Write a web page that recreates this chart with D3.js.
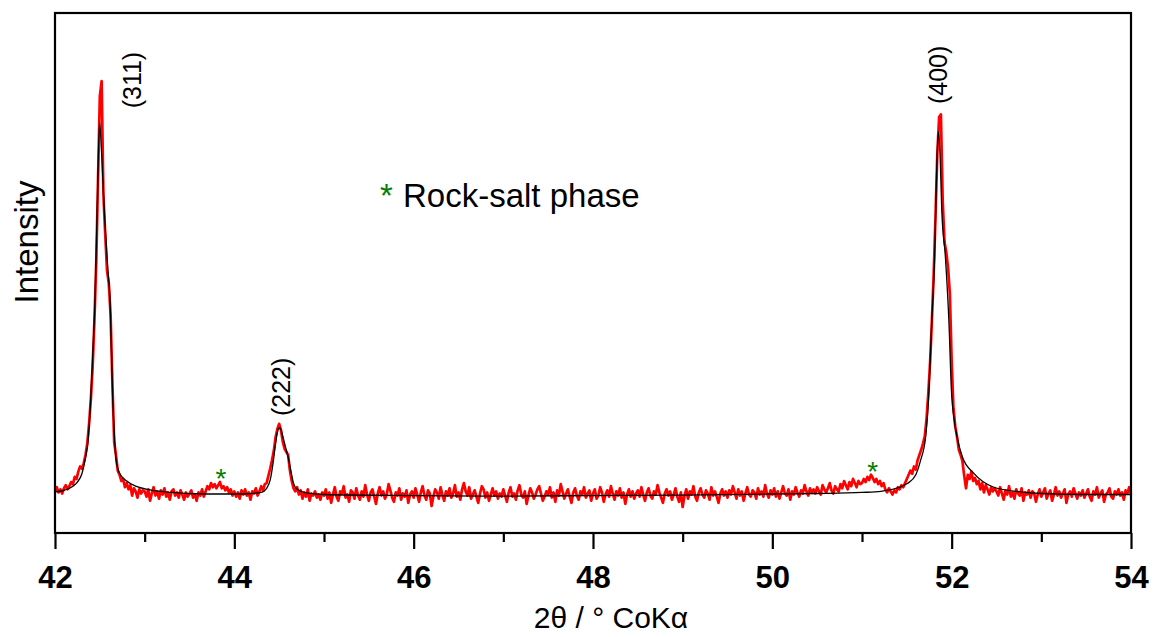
<!DOCTYPE html>
<html>
<head>
<meta charset="utf-8">
<script src="https://cdn.jsdelivr.net/npm/d3@7"></script>
<style>
  body { margin: 0; background: #fff; }
  text { font-family: Arial, 'Liberation Sans', sans-serif; }
</style>
</head>
<body>
<script>
const margem = {topo: 13, direita: 24, base: 104, esquerda: 55}
const largura = 1155 - margem.esquerda - margem.direita
const altura = 637 - margem.topo - margem.base

// measured pattern: start angle, step and counts (one row = 0.5 deg)
const inicio2theta = 42
const passo2theta = 0.02
const contagens = [
  82, 88, 78, 84, 76, 86, 92, 84, 90, 98, 94, 108, 104, 118, 128, 124, 134, 150, 172, 210, 258, 320, 410, 520, 680,
  840, 869, 650, 575, 505, 480, 420, 290, 175, 150, 120, 112, 100, 104, 88, 96, 84, 92, 72, 86, 80, 68, 84, 76, 82,
  80, 70, 84, 62, 76, 88, 72, 80, 66, 82, 74, 86, 70, 78, 64, 80, 84, 72, 78, 68, 82, 74, 64, 78, 70,
  76, 82, 68, 74, 62, 78, 72, 84, 70, 80, 90, 84, 96, 88, 94, 86, 92, 98, 86, 90, 82, 88, 78, 84, 72,
  80, 70, 78, 66, 82, 74, 84, 72, 78, 64, 80, 76, 86, 72, 80, 90, 82, 94, 96, 110, 124, 140, 158, 184, 200,
  210, 198, 176, 162, 156, 150, 120, 100, 86, 80, 88, 74, 82, 66, 78, 70, 84, 62, 76, 72, 80, 68, 74, 64, 78,
  72, 84, 66, 78, 58, 74, 88, 70, 62, 80, 76, 90, 68, 74, 60, 82, 78, 66, 86, 72, 64, 80, 70, 92, 74,
  62, 78, 84, 70, 56, 76, 88, 72, 80, 66, 74, 94, 82, 68, 60, 78, 72, 86, 64, 76, 70, 82, 58, 74, 80,
  68, 86, 74, 60, 78, 90, 72, 64, 82, 76, 52, 70, 84, 78, 66, 88, 74, 62, 80, 72, 86, 68, 76, 92, 70,
  78, 64, 84, 96, 80, 72, 88, 66, 74, 82, 70, 58, 76, 90, 84, 68, 78, 62, 74, 86, 72, 80, 66, 76, 70,
  84, 72, 60, 78, 88, 70, 76, 64, 82, 92, 74, 68, 80, 56, 72, 86, 78, 66, 74, 84, 90, 76, 62, 70, 80,
  74, 88, 68, 78, 60, 82, 72, 94, 80, 66, 76, 84, 70, 58, 78, 86, 72, 64, 80, 74, 88, 68, 76, 82, 62,
  76, 84, 66, 72, 88, 78, 60, 74, 82, 70, 90, 76, 64, 80, 72, 86, 68, 78, 56, 74, 84, 70, 80, 66, 76,
  82, 70, 88, 74, 62, 78, 86, 72, 66, 80, 74, 92, 78, 68, 58, 76, 84, 72, 80, 64, 74, 86, 70, 60, 78,
  50, 72, 84, 66, 80, 74, 90, 70, 62, 78, 86, 74, 68, 82, 76, 64, 88, 72, 80, 70, 58, 76, 84, 72, 80,
  68, 82, 74, 90, 78, 66, 84, 72, 80, 62, 76, 88, 74, 70, 82, 78, 66, 86, 74, 80, 70, 92, 76, 68, 82,
  74, 86, 70, 80, 66, 78, 90, 76, 72, 84, 64, 80, 74, 88, 78, 70, 82, 76, 92, 80, 72, 86, 78, 84, 76,
  88, 80, 74, 92, 84, 78, 86, 96, 82, 76, 90, 84, 80, 94, 86, 100, 92, 84, 98, 90, 104, 96, 88, 100, 94,
  96, 104, 98, 108, 102, 112, 106, 98, 104, 94, 100, 90, 96, 84, 78, 86, 80, 74, 82, 78, 88, 84, 92, 88, 96,
  104, 112, 120, 114, 128, 122, 140, 150, 160, 172, 186, 220, 270, 330, 410, 500, 610, 730, 800, 805, 640, 560, 540, 510, 460,
  330, 240, 205, 185, 160, 150, 138, 110, 86, 112, 104, 118, 100, 106, 94, 100, 84, 96, 78, 92, 84, 74, 88, 80, 86,
  80, 72, 88, 76, 64, 82, 74, 90, 70, 78, 66, 84, 76, 72, 86, 62, 78, 74, 82, 68, 80, 76, 60, 74, 84,
  70, 78, 86, 66, 76, 82, 62, 74, 88, 72, 80, 68, 76, 84, 58, 74, 80, 70, 86, 76, 66, 78, 72, 82, 68,
  76, 84, 70, 62, 80, 74, 88, 68, 76, 82, 60, 74, 78, 86, 70, 66, 80, 74, 84, 72, 78, 64, 82, 76, 88,
  74
]

// fitted profile (black), read at chosen angles
const ajusteX = [42.00, 42.10, 42.20, 42.25, 42.30, 42.335, 42.37, 42.398, 42.42, 42.446, 42.47, 42.497,
  42.52, 42.55, 42.59, 42.614, 42.644, 42.665, 42.681, 42.72, 42.80, 42.90, 43.06, 43.30, 43.70,
  44.10, 44.30, 44.36, 44.40, 44.43, 44.46, 44.49, 44.51, 44.54, 44.57, 44.60, 44.63, 44.66, 44.70,
  44.80, 45.00, 46.00, 47.00, 48.00, 49.00, 50.00, 50.50, 51.00, 51.21, 51.40, 51.505, 51.60, 51.654,
  51.71, 51.747, 51.777, 51.81, 51.83, 51.851, 51.87, 51.89, 51.93, 51.97, 51.997, 52.03, 52.06,
  52.12, 52.245, 52.47, 52.77, 53.00, 53.50, 54.00]
const ajusteY = [79, 82, 90, 98, 114, 140, 180, 256, 340, 448, 620, 790,
  730, 620, 506, 448, 256, 180, 140, 115, 100, 90, 83, 78, 75,
  75, 78, 86, 102, 132, 172, 200, 202, 186, 166, 146, 120, 96, 84,
  77, 74, 72, 71, 72, 73, 75, 76, 78, 80, 87, 95, 112, 140,
  185, 275, 404, 531, 680, 772, 730, 620, 531, 404, 275, 215, 185,
  146, 115, 88, 79, 76, 74, 74]

const picos = ['(311)', '(222)', '(400)']
const picosX = [42.86, 44.52, 51.855]
const picosY = [871, 281, 881]

const salX = [43.85, 51.12]
const salY = [117, 131]

const ticksMaiores = [42, 44, 46, 48, 50, 52, 54]
const ticksMenores = [43, 45, 47, 49, 51, 53]

var dados = contagens.map(function (c, i) {
  return {x: inicio2theta + i * passo2theta, y: c}
})
var dadosAjuste = ajusteX.map(function (x, i) { return {x: x, y: ajusteY[i]} })

var meuSVG = d3.select('body')
  .append('svg')
  .attr('width', 1155)
  .attr('height', 637)

var grupo = meuSVG.append('g')
  .attr('transform', 'translate(' + margem.esquerda + ',' + margem.topo + ')')

var escalaX = d3.scaleLinear().domain([42, 54]).range([0, largura])
var escalaY = d3.scaleLinear().domain([0, 1000]).range([altura, 0])

var linha = d3.line()
  .x(function (d) { return escalaX(d.x) })
  .y(function (d) { return escalaY(d.y) })

grupo.append('path')
  .attr('d', linha(dados))
  .attr('fill', 'none')
  .attr('stroke', '#ff0000')
  .attr('stroke-width', 2.7)
  .attr('stroke-linejoin', 'round')

grupo.append('path')
  .attr('d', linha.curve(d3.curveMonotoneX)(dadosAjuste))
  .attr('fill', 'none')
  .attr('stroke', '#000')
  .attr('stroke-width', 1.3)

// frame
grupo.append('rect')
  .attr('width', largura)
  .attr('height', altura)
  .attr('fill', 'none')
  .attr('stroke', '#000')
  .attr('stroke-width', 2.2)

var eixoBase = d3.axisBottom(escalaX)
  .tickValues(ticksMaiores)
  .tickFormat(d3.format('d'))
  .tickSize(16)
  .tickPadding(17)

var eixoMenor = d3.axisBottom(escalaX)
  .tickValues(ticksMenores)
  .tickFormat('')
  .tickSize(9)

var gBase = grupo.append('g')
  .attr('transform', 'translate(0,' + altura + ')')
  .call(eixoBase)
gBase.select('.domain').remove()
gBase.selectAll('line').attr('stroke-width', 2.2)
gBase.selectAll('text')
  .attr('font-family', "Arial, 'Liberation Sans', sans-serif")
  .attr('font-size', 31)
  .attr('font-weight', 'bold')
  .attr('fill', '#000')

var gMenor = grupo.append('g')
  .attr('transform', 'translate(0,' + altura + ')')
  .call(eixoMenor)
gMenor.select('.domain').remove()
gMenor.selectAll('line').attr('stroke-width', 2.2)

// axis titles
grupo.append('text')
  .attr('x', 611 - margem.esquerda)
  .attr('y', 628 - margem.topo)
  .attr('text-anchor', 'middle')
  .attr('font-size', 30)
  .text('2θ / ° CoKα')

grupo.append('text')
  .attr('transform', 'translate(' + (38 - margem.esquerda) + ',' + (242 - margem.topo) + ') rotate(-90)')
  .attr('text-anchor', 'middle')
  .attr('font-size', 33)
  .text('Intensity')

// peak labels
picos.forEach(function (p, i) {
  grupo.append('text')
    .attr('transform', 'translate(' + escalaX(picosX[i]) + ',' + escalaY(picosY[i]) + ') rotate(-90)')
    .attr('text-anchor', 'middle')
    .attr('dy', '0.35em')
    .attr('font-size', 25)
    .text(p)
})

// rock-salt markers
salX.forEach(function (x, i) {
  grupo.append('text')
    .attr('x', escalaX(x))
    .attr('y', escalaY(salY[i]) + 16)
    .attr('text-anchor', 'middle')
    .attr('font-size', 28)
    .attr('fill', '#008000')
    .text('*')
})

grupo.append('text')
  .attr('x', 380 - margem.esquerda)
  .attr('y', 207 - margem.topo)
  .attr('font-size', 33)
  .attr('fill', '#008000')
  .text('*')

grupo.append('text')
  .attr('x', 403 - margem.esquerda)
  .attr('y', 207 - margem.topo)
  .attr('font-size', 33)
  .text('Rock-salt phase')
</script>
</body>
</html>
